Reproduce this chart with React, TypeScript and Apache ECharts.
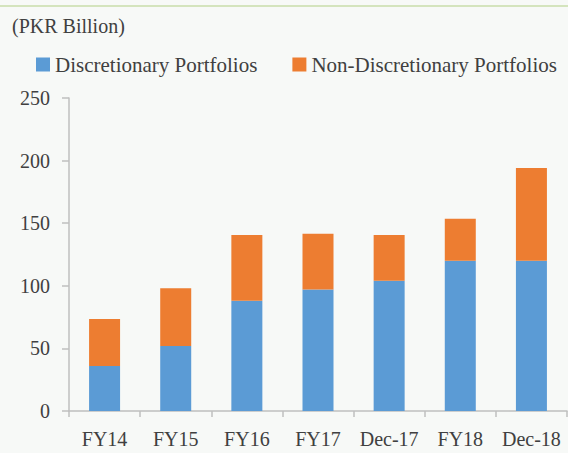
import React, { useEffect, useRef } from "react";
import * as echarts from "echarts";

const categories = ["FY14", "FY15", "FY16", "FY17", "Dec-17", "FY18", "Dec-18"];
const discretionary = [36, 52, 88, 97, 104, 120, 120];
const nonDiscretionary = [37.5, 46, 52.5, 44.5, 36.5, 33.5, 74];
const yTicks = { min: 0, max: 250, interval: 50 };
const unitLabel = "(PKR Billion)";

const FONT = "Liberation Serif";
const TEXT = "#404040";

export default function App() {
  const ref = useRef<HTMLDivElement>(null);
  useEffect(() => {
    if (!ref.current) return;
    const chart = echarts.init(ref.current, undefined, { renderer: "svg" });
    chart.setOption({
      animation: false,
      backgroundColor: "#f7f9f7",
      textStyle: { fontFamily: FONT, color: TEXT },
      graphic: [
        {
          type: "line",
          shape: { x1: 0, y1: 6, x2: 568, y2: 6 },
          style: { stroke: "#c9dcaa", lineWidth: 1.5 },
        },
        {
          type: "text",
          left: 12,
          top: 16,
          style: { text: unitLabel, fontFamily: FONT, fontSize: 20, fill: TEXT },
        },
      ],
      legend: {
        left: 31,
        top: 49,
        itemWidth: 14,
        itemHeight: 14,
        itemGap: 35,
        icon: "rect",
        textStyle: { fontFamily: FONT, fontSize: 21, color: TEXT },
        data: ["Discretionary Portfolios", "Non-Discretionary Portfolios"],
      },
      grid: { left: 69, right: 1, top: 98, bottom: 42, containLabel: false },
      xAxis: {
        type: "category",
        data: categories,
        axisLine: { show: true, lineStyle: { color: "#bfbfbf", width: 1.5 } },
        axisTick: { show: true, length: 6, lineStyle: { color: "#bfbfbf", width: 1.5 } },
        axisLabel: { interval: 0, fontFamily: FONT, fontSize: 20, color: TEXT, margin: 18 },
      },
      yAxis: {
        type: "value",
        min: yTicks.min,
        max: yTicks.max,
        interval: yTicks.interval,
        splitLine: { show: false },
        axisLine: { show: true, lineStyle: { color: "#bfbfbf", width: 1.5 } },
        axisTick: { show: true, length: 7, lineStyle: { color: "#bfbfbf", width: 1.5 } },
        axisLabel: { fontFamily: FONT, fontSize: 20, color: TEXT, margin: 19 },
      },
      series: [
        {
          name: "Discretionary Portfolios",
          type: "bar",
          stack: "total",
          barWidth: 31,
          data: discretionary,
          itemStyle: { color: "#5b9bd5" },
        },
        {
          name: "Non-Discretionary Portfolios",
          type: "bar",
          stack: "total",
          barWidth: 31,
          data: nonDiscretionary,
          itemStyle: { color: "#ed7d31" },
        },
      ],
    });
    return () => chart.dispose();
  }, []);
  return (
    <div
      ref={ref}
      style={{ position: "fixed", left: 0, top: 0, width: 568, height: 453 }}
    />
  );
}
